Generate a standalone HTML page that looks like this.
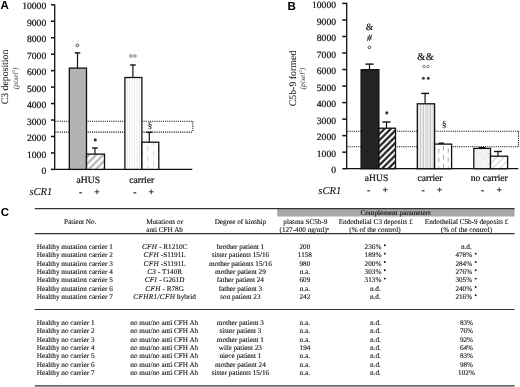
<!DOCTYPE html>
<html><head><meta charset="utf-8">
<style>
html,body{margin:0;padding:0;background:#fff;}
body{width:520px;height:387px;overflow:hidden;position:relative;}
svg{position:absolute;left:0;top:0;will-change:transform;}
text{text-rendering:geometricPrecision;}
.t{font-family:"Liberation Serif", serif;font-size:9.6px;fill:#111;stroke:#111;stroke-width:0.22px;}
.c{font-family:"Liberation Serif", serif;font-size:9.6px;fill:#111;stroke:#111;stroke-width:0.22px;}
.i{font-family:"Liberation Serif", serif;font-size:10.6px;font-style:italic;fill:#111;stroke:#111;stroke-width:0.1px;}
.L{font-family:"Liberation Sans", sans-serif;font-weight:bold;font-size:11.5px;fill:#000;}
.tb{font-family:"Liberation Serif", serif;font-size:7.2px;fill:#111;stroke:#111;stroke-width:0.12px;}
.tbi{font-family:"Liberation Serif", serif;font-size:7.2px;font-style:italic;fill:#111;}
</style></head><body>
<svg width="520" height="387" viewBox="0 0 520 387">
<defs>
<pattern id="hA" patternUnits="userSpaceOnUse" width="5" height="5" patternTransform="rotate(45)">
<rect width="5" height="5" fill="#fff"/><line x1="2.5" y1="0" x2="2.5" y2="5" stroke="#a8a8a8" stroke-width="1.9"/></pattern>
<pattern id="vA" patternUnits="userSpaceOnUse" x="125.2" width="2.45" height="10">
<rect width="2.45" height="10" fill="#fff"/><line x1="2.4" y1="0" x2="2.4" y2="10" stroke="#c8c8c8" stroke-width="0.75"/></pattern>
<pattern id="dA" patternUnits="userSpaceOnUse" x="142" y="146" width="11" height="10">
<rect width="11" height="10" fill="#fff"/><line x1="5.7" y1="0" x2="5.7" y2="5" stroke="#c8c8c8" stroke-width="0.9"/><line x1="0.3" y1="5" x2="0.3" y2="10" stroke="#c8c8c8" stroke-width="0.9"/></pattern>
<pattern id="hB" patternUnits="userSpaceOnUse" width="4.4" height="4.4" patternTransform="rotate(45)">
<rect width="4.4" height="4.4" fill="#fff"/><line x1="2.2" y1="0" x2="2.2" y2="4.4" stroke="#111" stroke-width="2.1"/></pattern>
<pattern id="vB" patternUnits="userSpaceOnUse" x="417.3" width="3.4" height="10">
<rect width="3.4" height="10" fill="#fff"/><line x1="2.8" y1="0" x2="2.8" y2="10" stroke="#a0a0a0" stroke-width="0.8"/><line x1="1.1" y1="0" x2="1.1" y2="10" stroke="#cfcfcf" stroke-width="0.8"/></pattern>
<pattern id="dB" patternUnits="userSpaceOnUse" x="434.6" y="148.6" width="9.4" height="9">
<rect width="9.4" height="9" fill="#fff"/><line x1="4.2" y1="0" x2="4.2" y2="4.4" stroke="#999" stroke-width="0.9"/><line x1="8.9" y1="6.4" x2="8.9" y2="9" stroke="#999" stroke-width="0.9"/><line x1="8.9" y1="0" x2="8.9" y2="1.9" stroke="#999" stroke-width="0.9"/></pattern>
<pattern id="zB" patternUnits="userSpaceOnUse" x="474" y="149" width="10" height="10">
<rect width="10" height="10" fill="#fff"/><path d="M0 0 L5 5 M0 2.5 L2.5 5 M2.5 0 L5 2.5 M5 10 L10 5 M5 7.5 L7.5 5 M7.5 10 L10 7.5 M5 5 L10 0 M5 2.5 L7.5 0 M7.5 5 L10 2.5 M0 10 L5 5 M0 7.5 L2.5 5 M2.5 10 L5 7.5" stroke="#c4c4c4" stroke-width="0.6" fill="none"/></pattern>
<pattern id="lB" patternUnits="userSpaceOnUse" width="5" height="5" patternTransform="rotate(45)">
<rect width="5" height="5" fill="#fff"/><line x1="2.5" y1="0" x2="2.5" y2="5" stroke="#d4d4d4" stroke-width="1.2"/></pattern>
</defs>
<text x="0.6" y="9.4" class="L">A</text>
<line x1="54.7" y1="4.2" x2="54.7" y2="169.4" stroke="#111" stroke-width="1.3"/>
<line x1="54.050000000000004" y1="169.4" x2="192.3" y2="169.4" stroke="#111" stroke-width="1.3"/>
<line x1="51.0" y1="169.40" x2="54.7" y2="169.40" stroke="#111" stroke-width="1.5"/>
<text x="46.2" y="174.00" text-anchor="end" class="t">0</text>
<line x1="51.0" y1="152.94" x2="54.7" y2="152.94" stroke="#111" stroke-width="1.5"/>
<text x="46.2" y="157.54" text-anchor="end" class="t">1000</text>
<line x1="51.0" y1="136.48" x2="54.7" y2="136.48" stroke="#111" stroke-width="1.5"/>
<text x="46.2" y="141.08" text-anchor="end" class="t">2000</text>
<line x1="51.0" y1="120.02" x2="54.7" y2="120.02" stroke="#111" stroke-width="1.5"/>
<text x="46.2" y="124.62" text-anchor="end" class="t">3000</text>
<line x1="51.0" y1="103.56" x2="54.7" y2="103.56" stroke="#111" stroke-width="1.5"/>
<text x="46.2" y="108.16" text-anchor="end" class="t">4000</text>
<line x1="51.0" y1="87.10" x2="54.7" y2="87.10" stroke="#111" stroke-width="1.5"/>
<text x="46.2" y="91.70" text-anchor="end" class="t">5000</text>
<line x1="51.0" y1="70.64" x2="54.7" y2="70.64" stroke="#111" stroke-width="1.5"/>
<text x="46.2" y="75.24" text-anchor="end" class="t">6000</text>
<line x1="51.0" y1="54.18" x2="54.7" y2="54.18" stroke="#111" stroke-width="1.5"/>
<text x="46.2" y="58.78" text-anchor="end" class="t">7000</text>
<line x1="51.0" y1="37.72" x2="54.7" y2="37.72" stroke="#111" stroke-width="1.5"/>
<text x="46.2" y="42.32" text-anchor="end" class="t">8000</text>
<line x1="51.0" y1="21.26" x2="54.7" y2="21.26" stroke="#111" stroke-width="1.5"/>
<text x="46.2" y="25.86" text-anchor="end" class="t">9000</text>
<line x1="51.0" y1="4.80" x2="54.7" y2="4.80" stroke="#111" stroke-width="1.5"/>
<text x="46.2" y="9.40" text-anchor="end" class="t">10000</text>
<line x1="55.400000000000006" y1="121.3" x2="192.8" y2="121.3" stroke="#111" stroke-width="1.1" stroke-dasharray="1.1 1.05"/>
<line x1="55.400000000000006" y1="132.1" x2="192.8" y2="132.1" stroke="#111" stroke-width="1.1" stroke-dasharray="1.1 1.05"/>
<line x1="192.8" y1="121.3" x2="192.8" y2="132.1" stroke="#111" stroke-width="1.1" stroke-dasharray="1.1 1.05"/>
<rect x="69.3" y="68.1" width="17.20" height="101.30" fill="#b3b3b3" stroke="#111" stroke-width="1.3"/>
<rect x="86.5" y="154.1" width="18.00" height="15.30" fill="url(#hA)" stroke="#111" stroke-width="1.3"/>
<rect x="124.9" y="77.5" width="17.00" height="91.90" fill="url(#vA)" stroke="#111" stroke-width="1.3"/>
<rect x="141.9" y="142.2" width="16.90" height="27.20" fill="url(#dA)" stroke="#111" stroke-width="1.3"/>
<line x1="77.5" y1="52.9" x2="77.5" y2="68.1" stroke="#111" stroke-width="1.2"/>
<line x1="74.7" y1="52.9" x2="80.3" y2="52.9" stroke="#111" stroke-width="1.4"/>
<line x1="94.95" y1="148.0" x2="94.95" y2="154.1" stroke="#111" stroke-width="1.2"/>
<line x1="92.1" y1="148.0" x2="97.7" y2="148.0" stroke="#111" stroke-width="1.4"/>
<line x1="132.9" y1="65.0" x2="132.9" y2="77.5" stroke="#111" stroke-width="1.2"/>
<line x1="130.1" y1="65.0" x2="135.7" y2="65.0" stroke="#111" stroke-width="1.4"/>
<line x1="149.3" y1="132.3" x2="149.3" y2="142.2" stroke="#111" stroke-width="1.2"/>
<line x1="146.4" y1="132.3" x2="152.2" y2="132.3" stroke="#111" stroke-width="1.4"/>
<circle cx="77.4" cy="45.4" r="1.35" fill="none" stroke="#333" stroke-width="0.85"/>
<circle cx="130.9" cy="56" r="1.3" fill="none" stroke="#555" stroke-width="0.75"/>
<circle cx="134.9" cy="56" r="1.3" fill="none" stroke="#555" stroke-width="0.75"/>
<circle cx="95.3" cy="139.9" r="1.55" fill="#333"/>
<text x="149.9" y="128.3" text-anchor="middle" class="c" style="font-size:9px;stroke-width:0.1px">§</text>
<text transform="translate(7.6,77) rotate(-90)" text-anchor="middle" class="c" style="font-size:9.8px;stroke-width:0.06px">C3 deposition</text>
<text transform="translate(17.6,78.4) rotate(-90)" text-anchor="middle" class="c" style="font-size:7.4px;font-style:italic;stroke:none;fill:#333">(pixel<tspan dy="-2.6" style="font-size:4.6px">2</tspan><tspan dy="2.6">)</tspan></text>
<text x="88.3" y="182.7" text-anchor="middle" class="c">aHUS</text>
<text x="141.7" y="182.5" text-anchor="middle" class="c">carrier</text>
<text x="29.4" y="195.3" class="i">sCR1</text>
<text x="80.6" y="194.8" text-anchor="middle" class="c">-</text>
<text x="134.8" y="194.8" text-anchor="middle" class="c">-</text>
<text x="96.9" y="194.8" text-anchor="middle" class="c">+</text>
<text x="151.3" y="194.8" text-anchor="middle" class="c">+</text>
<text x="287.4" y="9.6" class="L">B</text>
<line x1="346.7" y1="2.8" x2="346.7" y2="168.7" stroke="#111" stroke-width="1.3"/>
<line x1="346.05" y1="168.7" x2="518.3" y2="168.7" stroke="#111" stroke-width="1.3"/>
<line x1="342.3" y1="168.70" x2="346.7" y2="168.70" stroke="#111" stroke-width="1.5"/>
<text x="336.0" y="173.30" text-anchor="end" class="t">0</text>
<line x1="342.3" y1="152.17" x2="346.7" y2="152.17" stroke="#111" stroke-width="1.5"/>
<text x="336.0" y="156.77" text-anchor="end" class="t">1000</text>
<line x1="342.3" y1="135.64" x2="346.7" y2="135.64" stroke="#111" stroke-width="1.5"/>
<text x="336.0" y="140.24" text-anchor="end" class="t">2000</text>
<line x1="342.3" y1="119.11" x2="346.7" y2="119.11" stroke="#111" stroke-width="1.5"/>
<text x="336.0" y="123.71" text-anchor="end" class="t">3000</text>
<line x1="342.3" y1="102.58" x2="346.7" y2="102.58" stroke="#111" stroke-width="1.5"/>
<text x="336.0" y="107.18" text-anchor="end" class="t">4000</text>
<line x1="342.3" y1="86.05" x2="346.7" y2="86.05" stroke="#111" stroke-width="1.5"/>
<text x="336.0" y="90.65" text-anchor="end" class="t">5000</text>
<line x1="342.3" y1="69.52" x2="346.7" y2="69.52" stroke="#111" stroke-width="1.5"/>
<text x="336.0" y="74.12" text-anchor="end" class="t">6000</text>
<line x1="342.3" y1="52.99" x2="346.7" y2="52.99" stroke="#111" stroke-width="1.5"/>
<text x="336.0" y="57.59" text-anchor="end" class="t">7000</text>
<line x1="342.3" y1="36.46" x2="346.7" y2="36.46" stroke="#111" stroke-width="1.5"/>
<text x="336.0" y="41.06" text-anchor="end" class="t">8000</text>
<line x1="342.3" y1="19.93" x2="346.7" y2="19.93" stroke="#111" stroke-width="1.5"/>
<text x="336.0" y="24.53" text-anchor="end" class="t">9000</text>
<line x1="342.3" y1="3.40" x2="346.7" y2="3.40" stroke="#111" stroke-width="1.5"/>
<text x="336.0" y="8.00" text-anchor="end" class="t">10000</text>
<line x1="347.4" y1="131.3" x2="518.5" y2="131.3" stroke="#111" stroke-width="1.1" stroke-dasharray="1.1 1.05"/>
<line x1="347.4" y1="146.7" x2="518.5" y2="146.7" stroke="#111" stroke-width="1.1" stroke-dasharray="1.1 1.05"/>
<line x1="518.5" y1="131.3" x2="518.5" y2="146.7" stroke="#111" stroke-width="1.1" stroke-dasharray="1.1 1.05"/>
<rect x="361.1" y="69.7" width="17.80" height="99.00" fill="#232323" stroke="#111" stroke-width="1.3"/>
<rect x="378.9" y="128.2" width="16.60" height="40.50" fill="url(#hB)" stroke="#111" stroke-width="1.3"/>
<rect x="417.3" y="103.8" width="17.30" height="64.90" fill="url(#vB)" stroke="#111" stroke-width="1.3"/>
<rect x="434.6" y="144.1" width="17.00" height="24.60" fill="url(#dB)" stroke="#111" stroke-width="1.3"/>
<rect x="473.8" y="148.4" width="16.70" height="20.30" fill="url(#zB)" stroke="#111" stroke-width="1.3"/>
<rect x="490.5" y="156.2" width="17.10" height="12.50" fill="url(#lB)" stroke="#111" stroke-width="1.3"/>
<line x1="369.5" y1="64.1" x2="369.5" y2="69.7" stroke="#111" stroke-width="1.2"/>
<line x1="365.4" y1="64.1" x2="373.6" y2="64.1" stroke="#111" stroke-width="1.4"/>
<line x1="386.5" y1="122.0" x2="386.5" y2="128.2" stroke="#111" stroke-width="1.2"/>
<line x1="382.4" y1="122.0" x2="390.5" y2="122.0" stroke="#111" stroke-width="1.4"/>
<line x1="425.1" y1="93.4" x2="425.1" y2="103.8" stroke="#111" stroke-width="1.2"/>
<line x1="421.2" y1="93.4" x2="429.1" y2="93.4" stroke="#111" stroke-width="1.4"/>
<line x1="441.4" y1="143.2" x2="441.4" y2="144.1" stroke="#111" stroke-width="1.2"/>
<line x1="438.6" y1="143.2" x2="444.2" y2="143.2" stroke="#111" stroke-width="1.4"/>
<line x1="482.1" y1="147.6" x2="482.1" y2="148.4" stroke="#111" stroke-width="1.2"/>
<line x1="478.8" y1="147.6" x2="485.5" y2="147.6" stroke="#111" stroke-width="1.4"/>
<line x1="498.0" y1="151.5" x2="498.0" y2="156.2" stroke="#111" stroke-width="1.2"/>
<line x1="494.1" y1="151.5" x2="501.9" y2="151.5" stroke="#111" stroke-width="1.4"/>
<text x="369.5" y="30" text-anchor="middle" class="c">&amp;</text>
<text x="369.5" y="41.2" text-anchor="middle" class="c" style="font-style:italic;fill:#444">#</text>
<circle cx="369.4" cy="47.4" r="1.35" fill="none" stroke="#333" stroke-width="0.85"/>
<circle cx="386.8" cy="112.9" r="1.55" fill="#333"/>
<text x="425.7" y="60.3" text-anchor="middle" class="c" style="font-size:10.4px;letter-spacing:0.3px">&amp;&amp;</text>
<circle cx="424.1" cy="66.5" r="1.3" fill="none" stroke="#555" stroke-width="0.75"/>
<circle cx="428.1" cy="66.5" r="1.3" fill="none" stroke="#555" stroke-width="0.75"/>
<circle cx="423.4" cy="78.3" r="1.55" fill="#444"/>
<circle cx="428.3" cy="78.3" r="1.55" fill="#444"/>
<text x="444.2" y="127.2" text-anchor="middle" class="c" style="font-size:9px;stroke-width:0.1px">§</text>
<text transform="translate(295.6,78.5) rotate(-90)" text-anchor="middle" class="c" style="font-size:9.9px;stroke-width:0.06px">C5b-9 formed</text>
<text transform="translate(304.6,78.6) rotate(-90)" text-anchor="middle" class="c" style="font-size:7.4px;font-style:italic;stroke:none;fill:#333">(pixel<tspan dy="-2.6" style="font-size:4.6px">2</tspan><tspan dy="2.6">)</tspan></text>
<text x="376.6" y="181" text-anchor="middle" class="c">aHUS</text>
<text x="430" y="180.8" text-anchor="middle" class="c">carrier</text>
<text x="489.3" y="180.8" text-anchor="middle" class="c">no carrier</text>
<text x="318.3" y="193.6" class="i">sCR1</text>
<text x="368.6" y="193.2" text-anchor="middle" class="c">-</text>
<text x="423.1" y="193.2" text-anchor="middle" class="c">-</text>
<text x="482.7" y="193.2" text-anchor="middle" class="c">-</text>
<text x="385.1" y="193.2" text-anchor="middle" class="c">+</text>
<text x="439.7" y="193.2" text-anchor="middle" class="c">+</text>
<text x="499.3" y="193.2" text-anchor="middle" class="c">+</text>
<text x="0.8" y="215.7" class="L">C</text>
<rect x="277.2" y="209" width="237.3" height="7.5" fill="#a8a8a8"/>
<line x1="34.8" y1="208.7" x2="514.6" y2="208.7" stroke="#333" stroke-width="1.2"/>
<line x1="34.8" y1="233.6" x2="514.6" y2="233.6" stroke="#333" stroke-width="1.2"/>
<line x1="34.8" y1="309.5" x2="514.6" y2="309.5" stroke="#333" stroke-width="1.2"/>
<line x1="34.8" y1="385.9" x2="514.6" y2="385.9" stroke="#333" stroke-width="1.2"/>
<text x="395.7" y="215.3" text-anchor="middle" class="tb">Complement parameters</text>
<text x="80.2" y="223.9" text-anchor="middle" class="tb">Patient No.</text>
<text x="164.6" y="223.9" text-anchor="middle" class="tb">Mutations or</text>
<text x="164.6" y="232.4" text-anchor="middle" class="tb">anti CFH Ab</text>
<text x="240.4" y="223.9" text-anchor="middle" class="tb">Degree of kinship</text>
<text x="305.4" y="223.9" text-anchor="middle" class="tb">plasma SC5b-9</text>
<text x="304.2" y="232.4" text-anchor="middle" class="tb">(127-400 ng/ml)<tspan dy="-2" style="font-size:4.5px">a</tspan></text>
<text x="375.7" y="223.9" text-anchor="middle" class="tb">Endothelial C3 deposits £</text>
<text x="374.9" y="232.4" text-anchor="middle" class="tb">(% of the control)</text>
<text x="466.6" y="223.9" text-anchor="middle" class="tb">Endothelial C5b-9 deposits £</text>
<text x="466.4" y="232.4" text-anchor="middle" class="tb">(% of the control)</text>
<text x="36.8" y="248.90" class="tb">Healthy mutation carrier 1</text>
<text x="164.6" y="248.90" text-anchor="middle" class="tb"><tspan font-style="italic" letter-spacing="0.35">CFH</tspan> - R1210C</text>
<text x="240.4" y="248.90" text-anchor="middle" class="tb">brother patient 1</text>
<text x="304.9" y="248.90" text-anchor="middle" class="tb">200</text>
<text x="364.6" y="248.90" class="tb">236%</text>
<circle cx="384.8" cy="245.30" r="0.95" fill="#111"/>
<text x="466.3" y="248.90" text-anchor="middle" class="tb">n.d.</text>
<text x="36.8" y="257.23" class="tb">Healthy mutation carrier 2</text>
<text x="164.6" y="257.23" text-anchor="middle" class="tb"><tspan font-style="italic" letter-spacing="0.35">CFH</tspan> -S1191L</text>
<text x="240.4" y="257.23" text-anchor="middle" class="tb">sister patients 15/16</text>
<text x="304.9" y="257.23" text-anchor="middle" class="tb">1158</text>
<text x="364.6" y="257.23" class="tb">189%</text>
<circle cx="384.8" cy="253.63" r="0.95" fill="#111"/>
<text x="455.4" y="257.23" class="tb">478%</text>
<circle cx="475.7" cy="253.63" r="0.95" fill="#111"/>
<text x="36.8" y="265.56" class="tb">Healthy mutation carrier 3</text>
<text x="164.6" y="265.56" text-anchor="middle" class="tb"><tspan font-style="italic" letter-spacing="0.35">CFH</tspan> -S1191L</text>
<text x="240.4" y="265.56" text-anchor="middle" class="tb">mother patients 15/16</text>
<text x="304.9" y="265.56" text-anchor="middle" class="tb">980</text>
<text x="364.6" y="265.56" class="tb">200%</text>
<circle cx="384.8" cy="261.96" r="0.95" fill="#111"/>
<text x="455.4" y="265.56" class="tb">284%</text>
<circle cx="475.7" cy="261.96" r="0.95" fill="#111"/>
<text x="36.8" y="273.89" class="tb">Healthy mutation carrier 4</text>
<text x="164.6" y="273.89" text-anchor="middle" class="tb"><tspan font-style="italic" letter-spacing="0.35">C3</tspan> - T140R</text>
<text x="240.4" y="273.89" text-anchor="middle" class="tb">mother patient 29</text>
<text x="304.9" y="273.89" text-anchor="middle" class="tb">n.a.</text>
<text x="364.6" y="273.89" class="tb">303%</text>
<circle cx="384.8" cy="270.29" r="0.95" fill="#111"/>
<text x="455.4" y="273.89" class="tb">276%</text>
<circle cx="475.7" cy="270.29" r="0.95" fill="#111"/>
<text x="36.8" y="282.22" class="tb">Healthy mutation carrier 5</text>
<text x="164.6" y="282.22" text-anchor="middle" class="tb"><tspan font-style="italic" letter-spacing="0.35">CFI</tspan> - G261D</text>
<text x="240.4" y="282.22" text-anchor="middle" class="tb">father patient 24</text>
<text x="304.9" y="282.22" text-anchor="middle" class="tb">609</text>
<text x="364.6" y="282.22" class="tb">313%</text>
<circle cx="384.8" cy="278.62" r="0.95" fill="#111"/>
<text x="455.4" y="282.22" class="tb">305%</text>
<circle cx="475.7" cy="278.62" r="0.95" fill="#111"/>
<text x="36.8" y="290.55" class="tb">Healthy mutation carrier 6</text>
<text x="164.6" y="290.55" text-anchor="middle" class="tb"><tspan font-style="italic" letter-spacing="0.35">CFH</tspan> - R78G</text>
<text x="240.4" y="290.55" text-anchor="middle" class="tb">father patient 3</text>
<text x="304.9" y="290.55" text-anchor="middle" class="tb">n.a.</text>
<text x="375.3" y="290.55" text-anchor="middle" class="tb">n.d.</text>
<text x="455.4" y="290.55" class="tb">240%</text>
<circle cx="475.7" cy="286.95" r="0.95" fill="#111"/>
<text x="36.8" y="298.88" class="tb">Healthy mutation carrier 7</text>
<text x="164.6" y="298.88" text-anchor="middle" class="tb"><tspan font-style="italic" letter-spacing="0.35">CFHR1/CFH</tspan> hybrid</text>
<text x="240.4" y="298.88" text-anchor="middle" class="tb">son patient 23</text>
<text x="304.9" y="298.88" text-anchor="middle" class="tb">242</text>
<text x="375.3" y="298.88" text-anchor="middle" class="tb">n.d.</text>
<text x="455.4" y="298.88" class="tb">216%</text>
<circle cx="475.7" cy="295.28" r="0.95" fill="#111"/>
<text x="36.8" y="325.00" class="tb">Healthy no carrier 1</text>
<text x="164.3" y="325.00" text-anchor="middle" class="tb">no mut/no anti CFH Ab</text>
<text x="240.4" y="325.00" text-anchor="middle" class="tb">mother patient 3</text>
<text x="299.6" y="325.00" class="tb">n.a.</text>
<text x="370" y="325.00" class="tb">n.d.</text>
<text x="466.5" y="325.00" text-anchor="middle" class="tb">83%</text>
<text x="36.8" y="333.33" class="tb">Healthy no carrier 2</text>
<text x="164.3" y="333.33" text-anchor="middle" class="tb">no mut/no anti CFH Ab</text>
<text x="240.4" y="333.33" text-anchor="middle" class="tb">sister patient 3</text>
<text x="299.6" y="333.33" class="tb">n.a.</text>
<text x="370" y="333.33" class="tb">n.d.</text>
<text x="466.5" y="333.33" text-anchor="middle" class="tb">76%</text>
<text x="36.8" y="341.66" class="tb">Healthy no carrier 3</text>
<text x="164.3" y="341.66" text-anchor="middle" class="tb">no mut/no anti CFH Ab</text>
<text x="240.4" y="341.66" text-anchor="middle" class="tb">mother patient 1</text>
<text x="299.6" y="341.66" class="tb">n.a.</text>
<text x="370" y="341.66" class="tb">n.d.</text>
<text x="466.5" y="341.66" text-anchor="middle" class="tb">92%</text>
<text x="36.8" y="349.99" class="tb">Healthy no carrier 4</text>
<text x="164.3" y="349.99" text-anchor="middle" class="tb">no mut/no anti CFH Ab</text>
<text x="240.4" y="349.99" text-anchor="middle" class="tb">wife patient 23</text>
<text x="299.6" y="349.99" class="tb">194</text>
<text x="370" y="349.99" class="tb">n.d.</text>
<text x="466.5" y="349.99" text-anchor="middle" class="tb">64%</text>
<text x="36.8" y="358.32" class="tb">Healthy no carrier 5</text>
<text x="164.3" y="358.32" text-anchor="middle" class="tb">no mut/no anti CFH Ab</text>
<text x="240.4" y="358.32" text-anchor="middle" class="tb">niece patient 1</text>
<text x="299.6" y="358.32" class="tb">n.a.</text>
<text x="370" y="358.32" class="tb">n.d.</text>
<text x="466.5" y="358.32" text-anchor="middle" class="tb">83%</text>
<text x="36.8" y="366.65" class="tb">Healthy no carrier 6</text>
<text x="164.3" y="366.65" text-anchor="middle" class="tb">no mut/no anti CFH Ab</text>
<text x="240.4" y="366.65" text-anchor="middle" class="tb">mother patient 24</text>
<text x="299.6" y="366.65" class="tb">n.a.</text>
<text x="370" y="366.65" class="tb">n.d.</text>
<text x="466.5" y="366.65" text-anchor="middle" class="tb">98%</text>
<text x="36.8" y="374.98" class="tb">Healthy no carrier 7</text>
<text x="164.3" y="374.98" text-anchor="middle" class="tb">no mut/no anti CFH Ab</text>
<text x="240.4" y="374.98" text-anchor="middle" class="tb">sister patients 15/16</text>
<text x="299.6" y="374.98" class="tb">n.a.</text>
<text x="370" y="374.98" class="tb">n.d.</text>
<text x="466.5" y="374.98" text-anchor="middle" class="tb">102%</text>
</svg>
</body></html>
